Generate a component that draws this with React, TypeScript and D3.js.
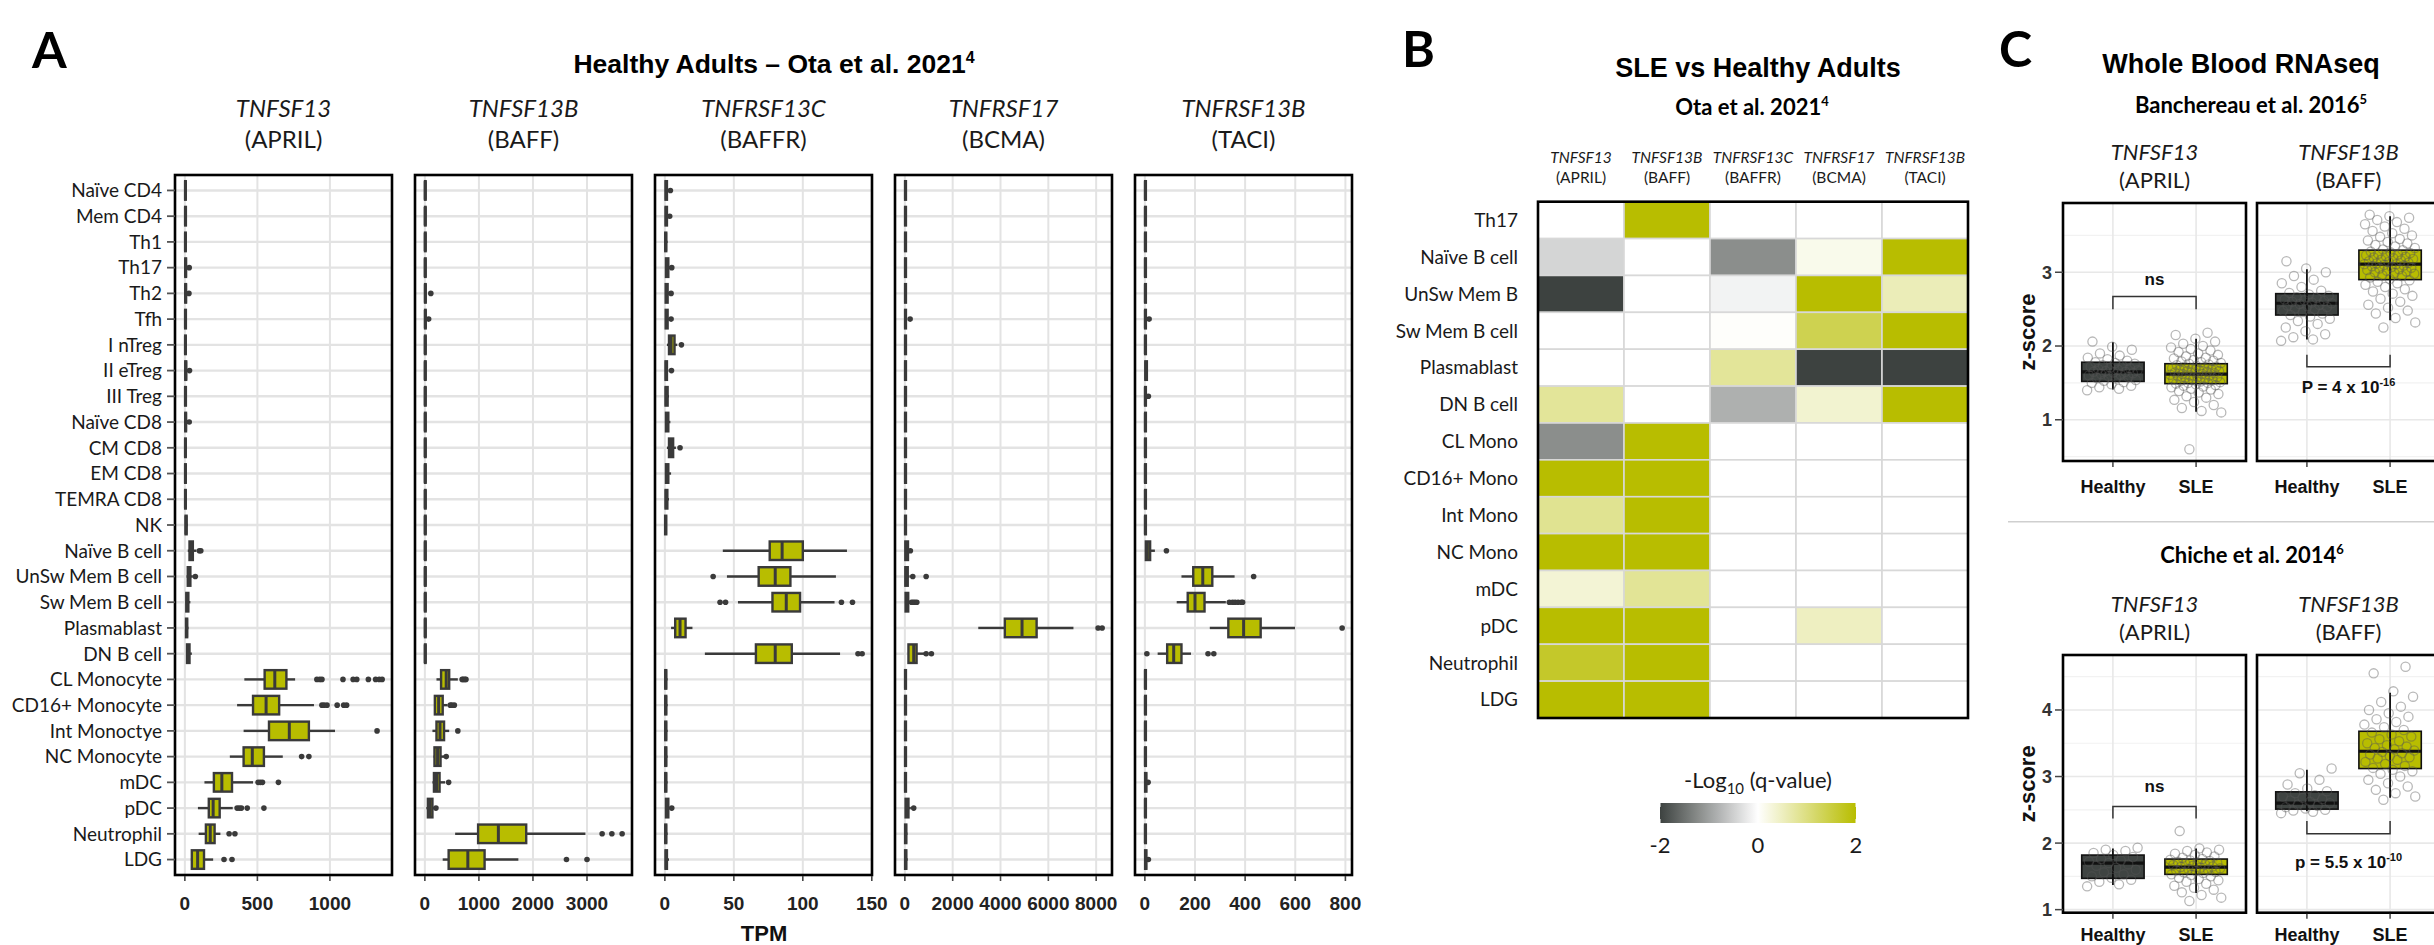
import React from 'react';
import * as d3 from 'd3';

const SANS = "'Liberation Sans', Arial, Helvetica, sans-serif";
const CAL = "Lato, 'Open Sans', sans-serif";
const YELLOW = '#b8bd00';
const DARK = '#3f4442';
const BOXLINE = '#3a3a3a';
const INK = '#1a1a1a';
const GRID = '#e3e3e3';

// ---------------- Panel A: TPM per cell type ----------------
const cellTypes = [
  'Naïve CD4', 'Mem CD4', 'Th1', 'Th17', 'Th2', 'Tfh', 'I nTreg', 'II eTreg', 'III Treg',
  'Naïve CD8', 'CM CD8', 'EM CD8', 'TEMRA CD8', 'NK', 'Naïve B cell', 'UnSw Mem B cell',
  'Sw Mem B cell', 'Plasmablast', 'DN B cell', 'CL Monocyte', 'CD16+ Monocyte', 'Int Monoctye',
  'NC Monocyte', 'mDC', 'pDC', 'Neutrophil', 'LDG',
];

// [lower whisker, q1, median, q3, upper whisker, outliers]
type Box = [number, number, number, number, number, number[]];

const aprilTpm: Box[] = [
  [0, 2, 4, 6, 12, []], [0, 2, 4, 7, 13, []], [0, 2, 4, 6, 11, []], [0, 3, 5, 8, 14, [30]],
  [0, 3, 5, 8, 15, [28]], [0, 2, 4, 7, 12, []], [0, 2, 4, 6, 11, []], [0, 3, 6, 9, 16, [32]],
  [0, 2, 4, 7, 12, []], [0, 3, 5, 8, 15, [30]], [0, 2, 4, 6, 12, []], [0, 2, 4, 6, 11, []],
  [0, 2, 4, 6, 11, []], [2, 5, 8, 12, 20, []],
  [20, 32, 42, 55, 80, [100, 110]],
  [12, 20, 28, 38, 55, [72]],
  [5, 10, 16, 24, 38, []],
  [3, 8, 12, 16, 25, []],
  [8, 15, 22, 32, 48, []],
  [410, 550, 620, 700, 760, [910, 930, 945, 1090, 1160, 1185, 1265, 1315, 1340, 1360]],
  [360, 470, 560, 650, 890, [945, 960, 980, 1050, 1095, 1115]],
  [405, 580, 720, 855, 1035, [1325]],
  [310, 405, 465, 545, 675, [805, 855]],
  [135, 200, 255, 325, 470, [505, 520, 535, 645]],
  [90, 165, 195, 240, 330, [360, 375, 390, 430, 545]],
  [95, 145, 175, 205, 245, [305, 345]],
  [42, 48, 88, 132, 195, [270, 325]],
];

const baffTpm: Box[] = [
  [0, 3, 6, 10, 18, []], [0, 3, 6, 10, 18, []], [0, 3, 6, 10, 18, []], [0, 3, 6, 10, 18, []],
  [0, 4, 8, 14, 25, [110]], [0, 4, 8, 14, 25, [70]], [0, 3, 6, 10, 18, []], [0, 3, 6, 10, 18, []],
  [0, 3, 6, 10, 18, []], [0, 3, 6, 10, 18, []], [0, 3, 6, 10, 18, []], [0, 3, 6, 10, 18, []],
  [0, 3, 6, 10, 18, []], [0, 3, 6, 10, 18, []], [0, 3, 6, 10, 18, []], [0, 3, 6, 10, 18, []],
  [0, 3, 6, 10, 18, []], [0, 3, 6, 10, 18, []], [0, 3, 6, 10, 18, []],
  [215, 300, 395, 450, 610, [690, 710, 740, 760]],
  [170, 185, 255, 330, 420, [470, 500, 545]],
  [140, 215, 280, 355, 450, [610]],
  [160, 178, 235, 290, 355, [395]],
  [140, 168, 215, 272, 375, [440]],
  [28, 56, 94, 140, 168, [205]],
  [560, 985, 1360, 1875, 2970, [3280, 3460, 3650]],
  [330, 440, 795, 1105, 1730, [2620, 3000]],
];

const baffrTpm: Box[] = [
  [0, 0.5, 1, 1.5, 3, [4]], [0, 0.5, 1, 1.5, 3, [3.5]], [0, 0.3, 0.6, 1, 2, []],
  [0, 0.8, 1.5, 2.5, 4, [5]], [0, 0.6, 1.2, 2, 3.5, [4.5]], [0, 0.6, 1.2, 2, 4, [4.5]],
  [1.5, 3, 4.5, 7, 9, [12]], [0, 0.5, 1, 1.5, 2.5, [4.8]], [0, 0.5, 1, 2, 3, []],
  [0, 0.8, 1.5, 2.5, 4, []], [1.5, 3, 4.5, 6, 8, [11]], [0, 0.8, 1.5, 2.5, 4.5, []],
  [0, 0.5, 1, 1.8, 3, []], [0, 0.2, 0.5, 1, 1.5, []],
  [42, 76, 85, 100, 132, []],
  [45, 68, 80, 91, 124, [35]],
  [53, 78, 88, 98, 123, [40, 44, 128, 136]],
  [4.5, 7.5, 11, 15, 20, []],
  [29, 66, 80, 92, 127, [140, 143]],
  [0, 0.3, 0.6, 1, 2, []], [0, 0.3, 0.6, 1, 2, []], [0, 0.3, 0.6, 1, 2, []], [0, 0.3, 0.6, 1, 2, []],
  [0, 0.3, 0.6, 1, 2, []], [0, 0.8, 1.5, 2.5, 4, [5]], [0, 0.3, 0.6, 1, 2, []], [0, 0.5, 1, 1.5, 3, []],
];

const bcmaTpm: Box[] = [
  [0, 10, 25, 45, 80, []], [0, 10, 25, 45, 80, []], [0, 10, 25, 45, 80, []], [0, 10, 25, 45, 80, []],
  [0, 10, 25, 45, 80, []], [0, 10, 25, 45, 80, [220]], [0, 10, 25, 45, 80, []], [0, 10, 25, 45, 80, []],
  [0, 10, 25, 45, 80, []], [0, 10, 25, 45, 80, []], [0, 10, 25, 45, 80, []], [0, 10, 25, 45, 80, []],
  [0, 10, 25, 45, 80, []], [0, 10, 25, 45, 80, []],
  [0, 20, 60, 130, 200, [230]],
  [0, 20, 60, 120, 200, [330, 890]],
  [0, 30, 70, 140, 220, [280, 350, 420, 500]],
  [3070, 4180, 4900, 5510, 7050, [8080, 8250]],
  [130, 150, 370, 490, 810, [890, 1110]],
  [0, 10, 25, 45, 80, []], [0, 10, 25, 45, 80, []], [0, 10, 25, 45, 80, []], [0, 10, 25, 45, 80, []],
  [0, 10, 25, 45, 80, []], [0, 30, 80, 150, 250, [370]], [0, 10, 30, 60, 110, []], [0, 10, 30, 60, 120, []],
];

const taciTpm: Box[] = [
  [0, 1, 2, 4, 7, []], [0, 1, 2, 4, 7, []], [0, 1, 2, 4, 7, []], [0, 1, 2, 4, 7, []],
  [0, 1, 2, 4, 7, []], [0, 1, 2, 4, 8, [17]], [0, 1, 2, 4, 7, []], [0, 2, 4, 8, 12, []],
  [0, 1, 2, 4, 9, [14]], [0, 1, 2, 4, 7, []], [0, 1, 2, 4, 7, []], [0, 1, 2, 4, 7, []],
  [0, 1, 2, 4, 7, []], [0, 1, 2, 4, 7, []],
  [0, 4, 10, 21, 40, [86]],
  [146, 193, 231, 269, 358, [434]],
  [127, 171, 200, 238, 323, [337, 350, 360, 372, 385, 390]],
  [259, 333, 394, 462, 599, [787]],
  [51, 89, 115, 146, 184, [8, 252, 275]],
  [0, 1, 2, 4, 7, []], [0, 1, 2, 4, 7, []], [0, 1, 2, 4, 7, []], [0, 1, 2, 4, 7, []],
  [0, 1, 3, 6, 10, [13]], [0, 1, 2, 4, 7, []], [0, 1, 2, 4, 7, []], [0, 1, 3, 6, 10, [14]],
];

const aprilTicks = [0, 500, 1000];
const baffTicks = [0, 1000, 2000, 3000];
const baffrTicks = [0, 50, 100, 150];
const bcmaTicks = [0, 2000, 4000, 6000, 8000];
const taciTicks = [0, 200, 400, 600, 800];

const genes = ['TNFSF13', 'TNFSF13B', 'TNFRSF13C', 'TNFRSF17', 'TNFRSF13B'];
const proteins = ['APRIL', 'BAFF', 'BAFFR', 'BCMA', 'TACI'];

// ---------------- Panel B: SLE vs healthy heatmap ----------------
const heatRows = [
  'Th17', 'Naïve B cell', 'UnSw Mem B', 'Sw Mem B cell', 'Plasmablast', 'DN B cell', 'CL Mono',
  'CD16+ Mono', 'Int Mono', 'NC Mono', 'mDC', 'pDC', 'Neutrophil', 'LDG',
];
const heatValues = [
  [0, 2, 0, 0, 0],
  [-0.44, 0, -1.2, 0.16, 2],
  [-2, 0, -0.13, 2, 0.56],
  [0, 0, 0.03, 1.37, 2],
  [0, 0, 0.8, -2, -2],
  [0.8, 0, -0.84, 0.37, 2],
  [-1.2, 2, 0, 0, 0],
  [2, 2, 0, 0, 0],
  [0.86, 2, 0, 0, 0],
  [2, 2, 0, 0, 0],
  [0.33, 0.82, 0, 0, 0],
  [2, 2, 0, 0.49, 0],
  [1.67, 2, 0, 0, 0],
  [2, 2, 0, 0, 0],
];
const legendTicks = [-2, 0, 2];

// ---------------- Panel C: whole blood z-scores ----------------
const groups = ['Healthy', 'SLE'];
const banchAprilHealthy = [1.4, 1.42, 1.44, 1.46, 1.48, 1.5, 1.51, 1.53, 1.54, 1.56, 1.57, 1.58, 1.59, 1.6, 1.61, 1.62, 1.63, 1.64, 1.65, 1.65, 1.66, 1.67, 1.68, 1.69, 1.7, 1.71, 1.72, 1.73, 1.74, 1.76, 1.77, 1.78, 1.8, 1.82, 1.84, 1.87, 1.9, 1.95, 1.99, 2.06];
const banchAprilSle = [0.6, 1.1, 1.12, 1.16, 1.2, 1.24, 1.27, 1.3, 1.32, 1.35, 1.37, 1.39, 1.41, 1.42, 1.44, 1.45, 1.46, 1.47, 1.48, 1.49, 1.5, 1.5, 1.51, 1.52, 1.53, 1.54, 1.55, 1.55, 1.56, 1.57, 1.58, 1.58, 1.59, 1.6, 1.6, 1.61, 1.62, 1.62, 1.63, 1.64, 1.64, 1.65, 1.66, 1.66, 1.67, 1.68, 1.68, 1.69, 1.7, 1.71, 1.72, 1.72, 1.73, 1.74, 1.75, 1.76, 1.77, 1.78, 1.79, 1.8, 1.81, 1.83, 1.84, 1.86, 1.88, 1.9, 1.92, 1.94, 1.96, 1.98, 2.0, 2.03, 2.06, 2.1, 2.15, 2.18];
const banchBaffHealthy = [2.07, 2.09, 2.12, 2.16, 2.2, 2.25, 2.3, 2.34, 2.37, 2.4, 2.42, 2.44, 2.46, 2.48, 2.5, 2.51, 2.53, 2.54, 2.55, 2.56, 2.57, 2.58, 2.59, 2.6, 2.61, 2.62, 2.63, 2.65, 2.66, 2.68, 2.7, 2.72, 2.75, 2.8, 2.85, 2.9, 2.95, 3.0, 3.05, 3.15];
const banchBaffSle = [2.25, 2.32, 2.38, 2.44, 2.48, 2.52, 2.56, 2.6, 2.64, 2.68, 2.71, 2.74, 2.77, 2.8, 2.83, 2.85, 2.87, 2.89, 2.91, 2.93, 2.95, 2.96, 2.98, 2.99, 3.0, 3.01, 3.02, 3.03, 3.04, 3.05, 3.06, 3.07, 3.08, 3.09, 3.1, 3.11, 3.11, 3.12, 3.13, 3.14, 3.15, 3.16, 3.17, 3.18, 3.19, 3.2, 3.21, 3.22, 3.23, 3.24, 3.25, 3.26, 3.27, 3.28, 3.3, 3.31, 3.33, 3.35, 3.37, 3.39, 3.41, 3.43, 3.45, 3.48, 3.5, 3.53, 3.56, 3.59, 3.62, 3.65, 3.68, 3.71, 3.74, 3.76, 3.78];
const chicheAprilHealthy = [1.35, 1.38, 1.42, 1.45, 1.48, 1.5, 1.53, 1.56, 1.6, 1.63, 1.66, 1.68, 1.7, 1.72, 1.74, 1.76, 1.79, 1.82, 1.85, 1.88, 1.9, 1.93];
const chicheAprilSle = [1.13, 1.18, 1.22, 1.26, 1.3, 1.33, 1.36, 1.39, 1.42, 1.44, 1.46, 1.48, 1.5, 1.52, 1.53, 1.55, 1.56, 1.57, 1.58, 1.59, 1.6, 1.61, 1.62, 1.63, 1.64, 1.65, 1.66, 1.67, 1.68, 1.69, 1.7, 1.71, 1.72, 1.73, 1.74, 1.75, 1.76, 1.78, 1.8, 1.82, 1.84, 1.86, 1.88, 1.9, 1.92, 2.18];
const chicheBaffHealthy = [2.45, 2.47, 2.49, 2.5, 2.52, 2.54, 2.56, 2.58, 2.6, 2.62, 2.64, 2.66, 2.68, 2.7, 2.72, 2.75, 2.78, 2.82, 2.88, 2.95, 3.05, 3.12];
const chicheBaffSle = [2.65, 2.7, 2.75, 2.8, 2.85, 2.9, 2.95, 3.0, 3.04, 3.08, 3.1, 3.13, 3.16, 3.19, 3.22, 3.25, 3.27, 3.29, 3.31, 3.33, 3.35, 3.37, 3.39, 3.41, 3.43, 3.45, 3.47, 3.5, 3.53, 3.56, 3.6, 3.63, 3.66, 3.7, 3.74, 3.78, 3.82, 3.86, 3.9, 3.95, 4.0, 4.05, 4.12, 4.2, 4.28, 4.55, 4.65];

// [lower whisker, q1, median, q3, upper whisker]
const banchAprilBoxes = [[1.41, 1.52, 1.65, 1.78, 2.05], [1.11, 1.49, 1.62, 1.76, 2.1]];
const banchBaffBoxes = [[2.09, 2.42, 2.58, 2.71, 3.04], [2.35, 2.9, 3.11, 3.3, 3.76]];
const chicheAprilBoxes = [[1.37, 1.47, 1.7, 1.82, 1.92], [1.25, 1.53, 1.64, 1.76, 1.92]];
const chicheBaffBoxes = [[2.48, 2.51, 2.6, 2.77, 3.1], [2.68, 3.12, 3.38, 3.68, 4.26]];

// brackets: [bar level, leg end]
const banchAprilBracket = [2.67, 2.5];
const banchBaffBracket = [1.72, 1.88];
const chicheAprilBracket = [2.55, 2.37];
const chicheBaffBracket = [2.14, 2.33];

const upperTicks = [1, 2, 3];
const upperMinor = [0.5, 1.5, 2.5, 3.5];
const lowerTicks = [1, 2, 3, 4];
const lowerMinor = [1.5, 2.5, 3.5, 4.5];

// ------------------------------------------------------------
const A = { left: 175, pitch: 240, width: 217, top: 175, bottom: 875 };

function TpmPanel({ i, data, ticks }: { i: number; data: Box[]; ticks: number[] }) {
  const x0 = A.left + i * A.pitch;
  const x1 = x0 + A.width;
  const vals = data.flatMap((d) => [d[0], d[4], ...d[5]]);
  const lo = d3.min(vals) as number;
  const hi = d3.max(vals) as number;
  const pad = (hi - lo) * 0.05;
  const x = d3.scaleLinear().domain([lo - pad, hi + pad]).range([x0, x1]);
  const y = d3.scalePoint<string>().domain(cellTypes).range([A.top, A.bottom]).padding(0.6);
  const bh = y.step() * 0.72;
  const cx = (x0 + x1) / 2;
  return (
    <g>
      <text x={cx} y={117} textAnchor="middle" fontFamily={CAL} fontStyle="italic" fontSize={24} fill={INK}>{genes[i]}</text>
      <text x={cx} y={148} textAnchor="middle" fontFamily={CAL} fontSize={24} fill={INK}>({proteins[i]})</text>
      <rect x={x0} y={A.top} width={A.width} height={A.bottom - A.top} fill="#fff" />
      {cellTypes.map((c) => (
        <line key={c} x1={x0} x2={x1} y1={y(c)} y2={y(c)} stroke={GRID} strokeWidth={2.4} />
      ))}
      {ticks.map((t) => (
        <line key={t} x1={x(t)} x2={x(t)} y1={A.top} y2={A.bottom} stroke={GRID} strokeWidth={2} />
      ))}
      {data.map((d, k) => {
        const yc = y(cellTypes[k]) as number;
        return (
          <g key={k}>
            <line x1={x(d[0])} x2={x(d[1])} y1={yc} y2={yc} stroke={BOXLINE} strokeWidth={2.4} />
            <line x1={x(d[3])} x2={x(d[4])} y1={yc} y2={yc} stroke={BOXLINE} strokeWidth={2.4} />
            <rect x={x(d[1])} y={yc - bh / 2} width={Math.max(x(d[3]) - x(d[1]), 0.6)} height={bh}
              fill={YELLOW} stroke={BOXLINE} strokeWidth={2.4} />
            <line x1={x(d[2])} x2={x(d[2])} y1={yc - bh / 2} y2={yc + bh / 2} stroke={BOXLINE} strokeWidth={3} />
            {d[5].map((o, j) => (
              <circle key={j} cx={x(o)} cy={yc} r={2.8} fill={BOXLINE} />
            ))}
          </g>
        );
      })}
      <rect x={x0} y={A.top} width={A.width} height={A.bottom - A.top} fill="none" stroke="#000" strokeWidth={2.6} />
      {ticks.map((t) => (
        <g key={t}>
          <line x1={x(t)} x2={x(t)} y1={A.bottom + 1} y2={A.bottom + 6} stroke="#444" strokeWidth={1.6} />
          <text x={x(t)} y={910} textAnchor="middle" fontFamily={SANS} fontWeight="bold" fontSize={19} fill="#222">{t}</text>
        </g>
      ))}
      {i === 0 &&
        cellTypes.map((c) => (
          <g key={c}>
            <line x1={A.left - 8} x2={A.left} y1={y(c)} y2={y(c)} stroke="#555" strokeWidth={1.8} />
            <text x={A.left - 13} y={y(c)} dy="0.36em" textAnchor="end" fontFamily={CAL} fontSize={19} fill={INK}>{c}</text>
          </g>
        ))}
    </g>
  );
}

const H = { left: 1538, right: 1968, top: 201.7, bottom: 718 };
const heatColor = d3.scaleLinear<string>().domain([-2, 0, 2]).range(['#3d4240', '#ffffff', YELLOW]).clamp(true);

function Heatmap() {
  const x = d3.scaleBand<number>().domain(d3.range(genes.length)).range([H.left, H.right]);
  const y = d3.scaleBand<string>().domain(heatRows).range([H.top, H.bottom]);
  const lx = d3.scaleLinear().domain([-2, 2]).range([1660, 1856]);
  const stops = d3.range(0, 1.0001, 0.05);
  return (
    <g>
      <defs>
        <linearGradient id="qgrad" x1="0" x2="1" y1="0" y2="0">
          {stops.map((s) => (
            <stop key={s} offset={s} stopColor={heatColor(-2 + 4 * s)} />
          ))}
        </linearGradient>
      </defs>
      {genes.map((g, j) => {
        const cx = (x(j) as number) + x.bandwidth() / 2;
        return (
          <g key={g}>
            <text x={cx} y={163} textAnchor="middle" fontFamily={CAL} fontStyle="italic" fontSize={15.5} fill={INK}>{g}</text>
            <text x={cx} y={183} textAnchor="middle" fontFamily={CAL} fontSize={15.5} fill={INK}>({proteins[j]})</text>
          </g>
        );
      })}
      {heatRows.map((r, k) => (
        <g key={r}>
          <text x={H.left - 20} y={(y(r) as number) + y.bandwidth() / 2} dy="0.36em" textAnchor="end" fontFamily={CAL} fontSize={19} fill={INK}>{r}</text>
          {heatValues[k].map((v, j) => (
            <rect key={j} x={x(j)} y={y(r)} width={x.bandwidth()} height={y.bandwidth()} fill={heatColor(v)} stroke="#d8d8d8" strokeWidth={1.6} />
          ))}
        </g>
      ))}
      <rect x={H.left} y={H.top} width={H.right - H.left} height={H.bottom - H.top} fill="none" stroke="#000" strokeWidth={2.6} />
      <text x={1758} y={788} textAnchor="middle" fontFamily={CAL} fontSize={22} fill={INK}>
        -Log<tspan fontSize={15} dy={6}>10</tspan><tspan dy={-6}> (q-value)</tspan>
      </text>
      <rect x={1660} y={803} width={196} height={20} fill="url(#qgrad)" />
      {[-2, 2].map((t) => (
        <g key={t}>
          <line x1={lx(t)} x2={lx(t)} y1={803} y2={807} stroke="#fff" strokeWidth={1} />
          <line x1={lx(t)} x2={lx(t)} y1={819} y2={823} stroke="#fff" strokeWidth={1} />
        </g>
      ))}
      {legendTicks.map((t) => (
        <text key={t} x={lx(t)} y={853} textAnchor="middle" fontFamily={CAL} fontSize={22} fill={INK}>{t}</text>
      ))}
    </g>
  );
}

type ZProps = {
  x0: number; top: number; bottom: number; domain: number[]; gene: string; protein: string; headY: number;
  boxes: number[][]; pts: number[][]; bracket: number[]; label: React.ReactNode; labelDy: number;
  ticks: number[]; minor: number[]; showY: boolean; xLabelY: number;
};

function ZPanel(p: ZProps) {
  const W = 183;
  const x = d3.scalePoint<string>().domain(groups).range([p.x0, p.x0 + W]).padding(0.6);
  const y = d3.scaleLinear().domain(p.domain).range([p.bottom, p.top]);
  const bw = x.step() * 0.75;
  const xs = groups.map((g) => x(g) as number);
  const [bar, leg] = p.bracket;
  return (
    <g>
      <text x={p.x0 + W / 2} y={p.headY} textAnchor="middle" fontFamily={CAL} fontStyle="italic" fontSize={22} fill={INK}>{p.gene}</text>
      <text x={p.x0 + W / 2} y={p.headY + 28} textAnchor="middle" fontFamily={CAL} fontSize={22} fill={INK}>({p.protein})</text>
      <rect x={p.x0} y={p.top} width={W} height={p.bottom - p.top} fill="#fff" />
      {p.minor.map((t) => (
        <line key={'m' + t} x1={p.x0} x2={p.x0 + W} y1={y(t)} y2={y(t)} stroke="#f2f2f2" strokeWidth={1.2} />
      ))}
      {p.ticks.map((t) => (
        <line key={t} x1={p.x0} x2={p.x0 + W} y1={y(t)} y2={y(t)} stroke="#e8e8e8" strokeWidth={1.6} />
      ))}
      {xs.map((cx, g) => (
        <line key={g} x1={cx} x2={cx} y1={p.top} y2={p.bottom} stroke="#e8e8e8" strokeWidth={1.6} />
      ))}
      {p.boxes.map((b, g) => (
        <g key={g}>
          <rect x={xs[g] - bw / 2} y={y(b[3])} width={bw} height={y(b[1]) - y(b[3])} fill={g === 0 ? DARK : YELLOW} stroke="#111" strokeWidth={1.6} />
          <line x1={xs[g]} x2={xs[g]} y1={y(b[4])} y2={y(b[0])} stroke="#111" strokeWidth={1.8} />
          <line x1={xs[g] - bw / 2} x2={xs[g] + bw / 2} y1={y(b[2])} y2={y(b[2])} stroke="#111" strokeWidth={3.2} />
        </g>
      ))}
      {p.pts.map((arr, g) =>
        arr.map((v, k) => {
          const jit = (((k * 0.6180339887 + g * 0.37) % 1) - 0.5) * 0.62 * x.step();
          return <circle key={g + '-' + k} cx={xs[g] + jit} cy={y(v)} r={4.6} fill="none" stroke="#555" strokeOpacity={0.42} strokeWidth={1.3} />;
        })
      )}
      <path d={`M${xs[0]},${y(leg)}V${y(bar)}H${xs[1]}V${y(leg)}`} fill="none" stroke="#333" strokeWidth={1.5} />
      <text x={(xs[0] + xs[1]) / 2} y={y(bar) + p.labelDy} textAnchor="middle" fontFamily={SANS} fontWeight="bold" fontSize={17} fill="#111">{p.label}</text>
      <rect x={p.x0} y={p.top} width={W} height={p.bottom - p.top} fill="none" stroke="#000" strokeWidth={2.6} />
      {xs.map((cx, g) => (
        <g key={g}>
          <line x1={cx} x2={cx} y1={p.bottom + 1} y2={p.bottom + 6} stroke="#444" strokeWidth={1.5} />
          <text x={cx} y={p.xLabelY} textAnchor="middle" fontFamily={SANS} fontWeight="bold" fontSize={18} fill="#111">{groups[g]}</text>
        </g>
      ))}
      {p.showY && (
        <g>
          {p.ticks.map((t) => (
            <g key={t}>
              <line x1={p.x0 - 8} x2={p.x0} y1={y(t)} y2={y(t)} stroke="#444" strokeWidth={1.5} />
              <text x={p.x0 - 11} y={y(t)} dy="0.36em" textAnchor="end" fontFamily={SANS} fontWeight="bold" fontSize={18} fill="#333">{t}</text>
            </g>
          ))}
          <text transform={`translate(2027,${(p.top + p.bottom) / 2}) rotate(-90)`} textAnchor="middle" dominantBaseline="central" fontFamily={SANS} fontWeight="bold" fontSize={22} fill="#111">z-score</text>
        </g>
      )}
    </g>
  );
}

function padDomain(arrs: number[][]) {
  const all = arrs.flat();
  const lo = d3.min(all) as number;
  const hi = d3.max(all) as number;
  const pad = (hi - lo) * 0.05;
  return [lo - pad, hi + pad];
}

export default function App() {
  const tpm = [aprilTpm, baffTpm, baffrTpm, bcmaTpm, taciTpm];
  const tks = [aprilTicks, baffTicks, baffrTicks, bcmaTicks, taciTicks];
  const upDom = padDomain([banchAprilHealthy, banchAprilSle, banchBaffHealthy, banchBaffSle]);
  const loDom = padDomain([chicheAprilHealthy, chicheAprilSle, chicheBaffHealthy, chicheBaffSle]);
  const sup = (s: string) => <tspan fontSize={13} dy={-9}>{s}</tspan>;
  return (
    <svg width={2434} height={945} style={{ position: 'absolute', left: 0, top: 0, display: 'block', background: '#fff' }}>
      <rect width={2434} height={945} fill="#fff" />
      {/* panel letters */}
      <text x={32} y={68} fontFamily={CAL} fontWeight="bold" fontSize={50} fill="#000">A</text>
      <text x={1402} y={67} fontFamily={CAL} fontWeight="bold" fontSize={50} fill="#000">B</text>
      <text x={1999} y={67} fontFamily={CAL} fontWeight="bold" fontSize={50} fill="#000">C</text>

      {/* Panel A */}
      <text x={774} y={73} textAnchor="middle" fontFamily={SANS} fontWeight="bold" fontSize={26.5} fill="#000">
        Healthy Adults – Ota et al. 2021<tspan fontSize={16} dy={-10}>4</tspan>
      </text>
      {tpm.map((d, i) => <TpmPanel key={i} i={i} data={d} ticks={tks[i]} />)}
      <text x={764} y={941} textAnchor="middle" fontFamily={SANS} fontWeight="bold" fontSize={22} fill="#111">TPM</text>

      {/* Panel B */}
      <text x={1758} y={77} textAnchor="middle" fontFamily={SANS} fontWeight="bold" fontSize={27} fill="#000">SLE vs Healthy Adults</text>
      <text x={1752} y={115} textAnchor="middle" fontFamily={CAL} fontWeight="bold" fontSize={22} fill="#000">
        Ota et al. 2021{sup('4')}
      </text>
      <Heatmap />

      {/* Panel C */}
      <text x={2241} y={73} textAnchor="middle" fontFamily={SANS} fontWeight="bold" fontSize={27} fill="#000">Whole Blood RNAseq</text>
      <text x={2251} y={113} textAnchor="middle" fontFamily={CAL} fontWeight="bold" fontSize={22} fill="#000">
        Banchereau et al. 2016{sup('5')}
      </text>
      <ZPanel x0={2063} top={203} bottom={461} domain={upDom} gene="TNFSF13" protein="APRIL" headY={160}
        boxes={banchAprilBoxes} pts={[banchAprilHealthy, banchAprilSle]} bracket={banchAprilBracket}
        label="ns" labelDy={-12} ticks={upperTicks} minor={upperMinor} showY xLabelY={493} />
      <ZPanel x0={2257} top={203} bottom={461} domain={upDom} gene="TNFSF13B" protein="BAFF" headY={160}
        boxes={banchBaffBoxes} pts={[banchBaffHealthy, banchBaffSle]} bracket={banchBaffBracket}
        label={<>P = 4 x 10<tspan fontSize={11} dy={-7}>-16</tspan></>} labelDy={26} ticks={upperTicks} minor={upperMinor} showY={false} xLabelY={493} />
      <line x1={2008} x2={2434} y1={521.7} y2={521.7} stroke="#cfcfcf" strokeWidth={1.5} />
      <text x={2252} y={563} textAnchor="middle" fontFamily={CAL} fontWeight="bold" fontSize={22} fill="#000">
        Chiche et al. 2014{sup('6')}
      </text>
      <ZPanel x0={2063} top={655} bottom={912.7} domain={loDom} gene="TNFSF13" protein="APRIL" headY={612}
        boxes={chicheAprilBoxes} pts={[chicheAprilHealthy, chicheAprilSle]} bracket={chicheAprilBracket}
        label="ns" labelDy={-14} ticks={lowerTicks} minor={lowerMinor} showY xLabelY={941} />
      <ZPanel x0={2257} top={655} bottom={912.7} domain={loDom} gene="TNFSF13B" protein="BAFF" headY={612}
        boxes={chicheBaffBoxes} pts={[chicheBaffHealthy, chicheBaffSle]} bracket={chicheBaffBracket}
        label={<>p = 5.5 x 10<tspan fontSize={11} dy={-7}>-10</tspan></>} labelDy={34} ticks={lowerTicks} minor={lowerMinor} showY={false} xLabelY={941} />
    </svg>
  );
}
